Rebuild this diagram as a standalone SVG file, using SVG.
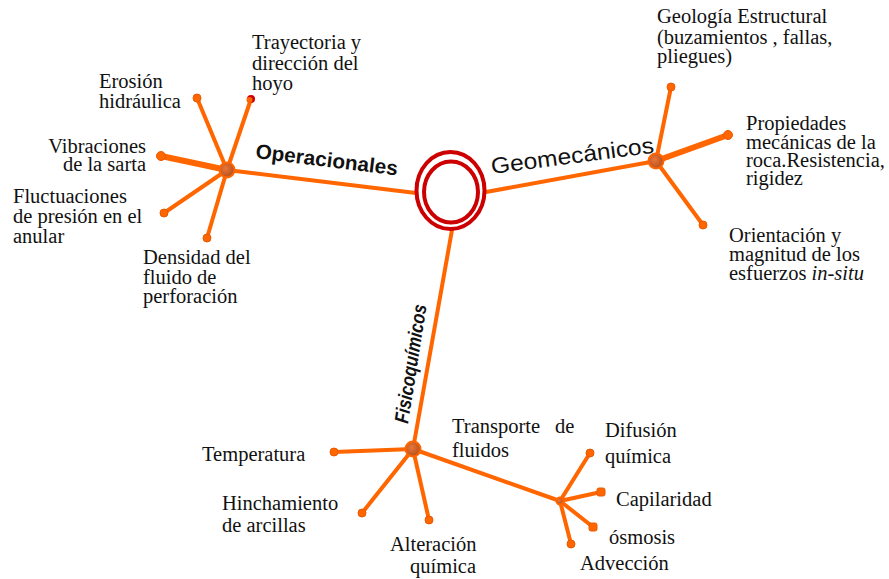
<svg xmlns="http://www.w3.org/2000/svg" width="889" height="579" viewBox="0 0 889 579">
<defs>
<radialGradient id="hubg" cx="40%" cy="40%" r="60%">
<stop offset="0" stop-color="#e8763a"/>
<stop offset="1" stop-color="#b8501c"/>
</radialGradient>
<style>
.ln{stroke:#ff6600;stroke-width:4;stroke-linecap:round;fill:none}
.thk{stroke-width:6}
.end{fill:#ff6600;stroke:#e85a00;stroke-width:1}
.hub{fill:url(#hubg);stroke:#ff6600;stroke-width:2}
.t{font-family:"Liberation Serif","Times New Roman",serif;font-size:20.5px;fill:#111}
.lab{font-family:"Liberation Sans",Arial,sans-serif;fill:#111}
</style>
</defs>
<rect width="889" height="579" fill="#fff"/>
<g id="connectors">
<line class="ln" x1="227" y1="170" x2="416" y2="193"/>
<line class="ln" x1="486" y1="192" x2="656" y2="161"/>
<line class="ln" x1="452" y1="230" x2="413" y2="449"/>
<line class="ln" x1="227" y1="170" x2="197" y2="98"/>
<line class="ln" x1="227" y1="170" x2="251" y2="99"/>
<line class="ln thk" x1="227" y1="170" x2="161" y2="156"/>
<line class="ln" x1="227" y1="170" x2="164" y2="213"/>
<line class="ln" x1="227" y1="170" x2="207" y2="238"/>
<line class="ln" x1="656" y1="161" x2="671" y2="87"/>
<line class="ln thk" x1="656" y1="161" x2="728" y2="135"/>
<line class="ln" x1="656" y1="161" x2="703" y2="225"/>
<line class="ln" x1="413" y1="449" x2="334" y2="452"/>
<line class="ln" x1="413" y1="449" x2="362" y2="513"/>
<line class="ln" x1="413" y1="449" x2="429" y2="520"/>
<line class="ln" x1="413" y1="449" x2="560" y2="501" stroke-width="5"/>
<line class="ln" x1="560" y1="501" x2="590" y2="453"/>
<line class="ln" x1="560" y1="501" x2="601" y2="492"/>
<line class="ln" x1="560" y1="501" x2="593" y2="527"/>
<line class="ln" x1="560" y1="501" x2="571" y2="544"/>
<text class="lab" x="255" y="158" transform="rotate(7 255 158)" font-size="20.5" font-weight="bold" textLength="143" lengthAdjust="spacingAndGlyphs">Operacionales</text>
<text class="lab" x="492" y="174" transform="rotate(-7.5 492 174)" font-size="22.5" textLength="164" lengthAdjust="spacingAndGlyphs">Geomecánicos</text>
<text class="lab" x="408" y="424" transform="rotate(-81 408 424)" font-size="20" font-weight="bold" font-style="italic" textLength="120" lengthAdjust="spacingAndGlyphs">Fisicoquímicos</text>
</g>
<g id="center">
<ellipse cx="450.5" cy="190.5" rx="34" ry="38.5" fill="#fff" stroke="#cc0000" stroke-width="4"/>
<ellipse cx="451" cy="192" rx="27" ry="30.5" fill="none" stroke="#cc0000" stroke-width="4"/>
</g>
<g id="hub-operacionales"><circle class="hub" cx="227" cy="170" r="7.5"/></g>
<g id="hub-geomecanicos"><circle class="hub" cx="656" cy="161" r="7.5"/></g>
<g id="hub-fisicoquimicos"><circle class="hub" cx="413" cy="449" r="7.5"/></g>
<g id="hub-transporte"><circle class="hub" cx="560" cy="501" r="3.5" stroke-width="1"/></g>
<g id="erosion"><circle class="end" cx="197" cy="98" r="4"/>
<text class="t" x="99" y="88">Erosión</text><text class="t" x="99" y="108">hidráulica</text></g>
<g id="trayectoria"><circle cx="251" cy="99" r="4" fill="#cc0000"/><circle cx="249.5" cy="100" r="3" fill="#ff6600"/>
<text class="t" x="252" y="49">Trayectoria y</text><text class="t" x="252" y="70">dirección del</text><text class="t" x="252" y="90">hoyo</text></g>
<g id="vibraciones"><circle class="end" cx="161" cy="156" r="4.5"/>
<text class="t" x="146" y="153" text-anchor="end">Vibraciones</text><text class="t" x="146" y="171" text-anchor="end">de la sarta</text></g>
<g id="fluctuaciones"><circle class="end" cx="164" cy="213" r="4"/>
<text class="t" x="13" y="203">Fluctuaciones</text><text class="t" x="13" y="223">de presión en el</text><text class="t" x="13" y="243">anular</text></g>
<g id="densidad"><circle class="end" cx="207" cy="238" r="4"/>
<text class="t" x="143" y="264">Densidad del</text><text class="t" x="143" y="284">fluido de</text><text class="t" x="143" y="303">perforación</text></g>
<g id="geologia"><circle class="end" cx="671" cy="87" r="4"/>
<text class="t" x="657" y="23">Geología Estructural</text><text class="t" x="657" y="44">(buzamientos , fallas,</text><text class="t" x="657" y="63">pliegues)</text></g>
<g id="propiedades"><circle class="end" cx="728" cy="135" r="4.5"/>
<text class="t" x="746" y="130">Propiedades</text><text class="t" x="746" y="148.5">mecánicas de la</text><text class="t" x="746" y="167">roca.Resistencia,</text><text class="t" x="746" y="185">rigidez</text></g>
<g id="orientacion"><circle class="end" cx="703" cy="225" r="4"/>
<text class="t" x="729" y="242">Orientación y</text><text class="t" x="729" y="261">magnitud de los</text><text class="t" x="729" y="280">esfuerzos <tspan font-style="italic">in-situ</tspan></text></g>
<g id="temperatura"><circle class="end" cx="334" cy="452" r="4"/>
<text class="t" x="202" y="461">Temperatura</text></g>
<g id="hinchamiento"><circle class="end" cx="362" cy="513" r="4"/>
<text class="t" x="222" y="510">Hinchamiento</text><text class="t" x="222" y="532">de arcillas</text></g>
<g id="alteracion"><circle class="end" cx="429" cy="520" r="4"/>
<text class="t" x="390" y="551">Alteración</text><text class="t" x="410" y="573">química</text></g>
<g id="transporte">
<text class="t" x="452" y="433">Transporte</text><text class="t" x="555" y="433">de</text><text class="t" x="452" y="457">fluidos</text></g>
<g id="difusion"><circle class="end" cx="590" cy="453" r="4"/>
<text class="t" x="605" y="437">Difusión</text><text class="t" x="605" y="463">química</text></g>
<g id="capilaridad"><rect class="end" x="597" y="488" width="8" height="8" rx="2"/>
<text class="t" x="616" y="506">Capilaridad</text></g>
<g id="osmosis"><rect class="end" x="589" y="523" width="8" height="8" rx="2"/>
<text class="t" x="609" y="544">ósmosis</text></g>
<g id="adveccion"><circle class="end" cx="571" cy="544" r="4"/>
<text class="t" x="580" y="570">Advección</text></g>
</svg>
